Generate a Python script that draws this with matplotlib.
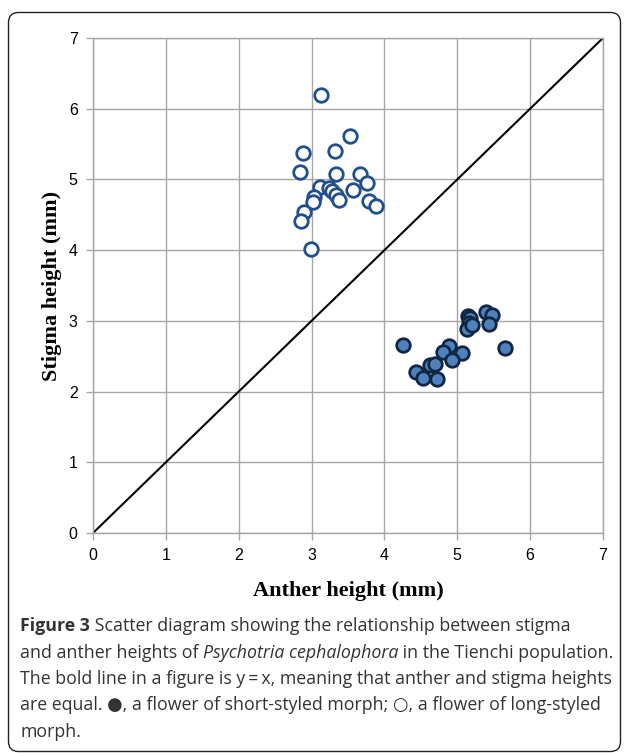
import matplotlib
matplotlib.use("Agg")
import matplotlib.pyplot as plt
from matplotlib import font_manager
from matplotlib.patches import FancyBboxPatch
from matplotlib.transforms import IdentityTransform

# ---- data ----
long_anther = [3.13, 3.53, 2.88, 3.32, 2.84, 3.33, 3.66, 3.76, 3.11, 3.24, 3.28,
               3.34, 3.57, 3.37, 3.04, 3.02, 3.79, 3.88, 2.89, 2.85, 2.99]
long_stigma = [6.19, 5.61, 5.37, 5.40, 5.11, 5.07, 5.08, 4.95, 4.90, 4.88, 4.83,
               4.78, 4.85, 4.71, 4.75, 4.68, 4.69, 4.63, 4.54, 4.41, 4.02]
short_anther = [4.26, 5.65, 4.89, 4.80, 5.06, 4.93, 4.43, 4.53, 4.72, 4.62, 4.70,
                5.15, 5.18, 5.16, 5.14, 5.20, 5.40, 5.47, 5.43]
short_stigma = [2.66, 2.61, 2.64, 2.56, 2.55, 2.44, 2.27, 2.19, 2.18, 2.37, 2.39,
                3.07, 3.04, 2.97, 2.88, 2.94, 3.13, 3.08, 2.96]
ticks = [0, 1, 2, 3, 4, 5, 6, 7]
xlabel = "Anther height (mm)"
ylabel = "Stigma height (mm)"

W, H, DPI = 629, 753, 100
fig = plt.figure(figsize=(W / DPI, H / DPI), dpi=DPI)

# outer rounded frame
frame = FancyBboxPatch((8.5, 1.5), W - 17, H - 14,
                       boxstyle="round,pad=0,rounding_size=10",
                       transform=IdentityTransform(), fill=False,
                       edgecolor="#222222", linewidth=1.0)
fig.patches.append(frame)

ax = fig.add_axes([93 / W, 1 - 533 / H, (603 - 93) / W, (533 - 38) / H])
ax.set_xlim(0, 7)
ax.set_ylim(0, 7)
ax.set_xticks(ticks)
ax.set_yticks(ticks)
ax.grid(True, color="#a6a6a6", linewidth=1.0)
ax.set_axisbelow(True)
for s in ax.spines.values():
    s.set_color("#a6a6a6")
    s.set_linewidth(1.0)
ax.tick_params(direction="out", length=5, width=1, color="#a6a6a6",
               labelsize=11.5, pad=6)
for lab in ax.get_xticklabels() + ax.get_yticklabels():
    lab.set_fontfamily("Liberation Sans")

ax.plot([0, 7], [0, 7], color="black", linewidth=1.5, zorder=2)
ax.scatter(long_anther, long_stigma, s=95, facecolors="white",
           edgecolors="#21508d", linewidths=2.0, zorder=3)
ax.scatter(short_anther, short_stigma, s=95, facecolors="#4f81bd",
           edgecolors="#0f2745", linewidths=2.0, zorder=3)

ax.set_xlabel(xlabel, family="Liberation Serif", fontweight="bold",
              fontsize=16, labelpad=13)
ax.set_ylabel(ylabel, family="Liberation Serif", fontweight="bold",
              fontsize=16, labelpad=5)

# caption
lines = [
    [("Figure 3", "bold", "normal"),
     (" Scatter diagram showing the relationship between stigma", "normal", "normal")],
    [("and anther heights of ", "normal", "normal"),
     ("Psychotria cephalophora", "normal", "italic"),
     (" in the Tienchi population.", "normal", "normal")],
    [("The bold line in a figure is y\u2009=\u2009x, meaning that anther and stigma heights",
      "normal", "normal")],
    [("are equal. \u25cf, a flower of short-styled morph; \u25cb, a flower of long-styled",
      "normal", "normal")],
    [("morph.", "normal", "normal")],
]

def has_font(name):
    try:
        font_manager.findfont(font_manager.FontProperties(family=name),
                              fallback_to_default=False)
        return True
    except Exception:
        return False

main_fam = "Open Sans"
for cand in ["Liberation Sans Narrow", "Open Sans"]:
    if has_font(cand):
        main_fam = cand
        break
cap_fam = [main_fam, "DejaVu Sans"]

fig.canvas.draw()
renderer = fig.canvas.get_renderer()

def line_width(segs, fs):
    tot = 0
    for txt, wt, st in segs:
        t = fig.text(0, 0, txt, fontsize=fs, fontweight=wt, fontstyle=st,
                     family=cap_fam)
        tot += t.get_window_extent(renderer).width
        t.remove()
    return tot

fs = 12.0
wmax = max(line_width(l, fs) for l in lines)
fs = fs * 592 / wmax

ys = [626, 652.5, 679, 705.5, 732]
for segs, yp in zip(lines, ys):
    x = 20.0
    for txt, wt, st in segs:
        t = fig.text(x / W, 1 - yp / H, txt, fontsize=fs, fontweight=wt,
                     fontstyle=st, family=cap_fam, va="center", ha="left",
                     color="#333333")
        x += t.get_window_extent(renderer).width

fig.savefig("out.png", dpi=DPI)
